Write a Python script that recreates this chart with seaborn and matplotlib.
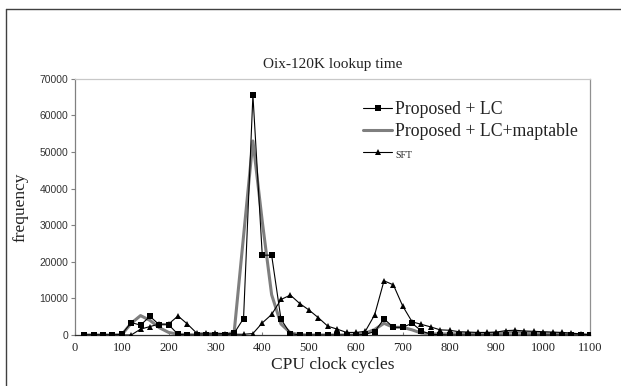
import matplotlib
matplotlib.use("Agg")
import matplotlib.pyplot as plt
from matplotlib.lines import Line2D
import seaborn as sns
import pandas as pd

cycles = list(range(20, 1101, 20))

proposed_lc = [0, 0, 0, 0, 200, 3400, 2700, 5100, 2800, 2800,
               200, 0, 0, 0, 0, 0, 500, 4500, 65500, 21800,
               21800, 4300, 400, 0, 0, 0, 0, 0, 0, 0,
               200, 900, 4400, 2100, 2100, 3200, 1100, 200, 100, 0,
               0, 0, 0, 0, 0, 0, 0, 0, 0, 0,
               0, 0, 0, 0, 0]

proposed_lc_maptable = [0, 0, 0, 0, 100, 3200, 5300, 4000, 2000, 700,
                        200, 100, 0, 0, 0, 0, 800, 27000, 53000, 31000,
                        11000, 3000, 600, 100, 0, 0, 0, 0, 0, 0,
                        500, 1500, 3200, 2100, 2100, 1400, 500, 300, 300, 300,
                        300, 300, 300, 400, 500, 700, 800, 700, 500, 400,
                        300, 300, 200, 100, 0]

sft = [0, 0, 0, 0, 0, 0, 1600, 2300, 3000, 3000,
       5200, 3000, 500, 500, 500, 400, 200, 200, 400, 3300,
       5600, 9700, 10900, 8600, 6800, 4700, 2400, 1600, 700, 700,
       1000, 5500, 14800, 13700, 7900, 3600, 2900, 2200, 1400, 1300,
       900, 800, 700, 700, 800, 1200, 1300, 1100, 1000, 900,
       800, 700, 500, 300, 0]

series_names = ["Proposed + LC", "Proposed + LC+maptable", "SFT"]
x_ticks = list(range(0, 1101, 100))
y_ticks = list(range(0, 70001, 10000))

df = pd.DataFrame({"cycles": cycles,
                   series_names[0]: proposed_lc,
                   series_names[1]: proposed_lc_maptable,
                   series_names[2]: sft})

sns.set_style("white")
plt.rcParams["font.family"] = ["Liberation Serif", "DejaVu Serif"]

fig = plt.figure(figsize=(6.21, 3.86), dpi=100)
ax = fig.add_axes([75 / 621, 1 - 335 / 386, 515 / 621, (335 - 78.7) / 386])

sns.lineplot(data=df, x="cycles", y=series_names[0], ax=ax, color="black",
             linewidth=0.8, marker="s", markersize=3.8, markeredgewidth=0,
             label=series_names[0], zorder=4)
sns.lineplot(data=df, x="cycles", y=series_names[1], ax=ax, color="#7f7f7f",
             linewidth=2.2, label=series_names[1], zorder=3)
sns.lineplot(data=df, x="cycles", y=series_names[2], ax=ax, color="black",
             linewidth=0.8, marker="^", markersize=4.4, markeredgewidth=0,
             label=series_names[2], zorder=5)

ax.set_xlim(0, 1100)
ax.set_ylim(0, 70000)
ax.set_xticks(x_ticks)
ax.set_yticks(y_ticks)
ax.set_xticklabels([str(t) for t in x_ticks], fontsize=9, color="#222222")
ax.set_yticklabels([str(t) for t in y_ticks], fontsize=7.5,
                   family="Liberation Sans", color="#333333")
ax.tick_params(axis="y", direction="out", length=3, width=0.8, color="#808080",
               pad=2, left=True)
ax.tick_params(axis="x", direction="in", length=2.5, width=0.8, color="#808080",
               pad=5, bottom=True)

for side, col in [("left", "#808080"), ("right", "#909090"),
                  ("top", "#c8c8c8"), ("bottom", "#303030")]:
    ax.spines[side].set_visible(True)
    ax.spines[side].set_color(col)
    ax.spines[side].set_linewidth(0.9)

ax.set_xlabel("CPU clock cycles", fontsize=12.5, color="#222222", labelpad=2)
ax.set_ylabel("frequency", fontsize=12.5, color="#222222", labelpad=8)
ax.set_title("Oix-120K lookup time", fontsize=11, color="#222222", pad=8)

leg = ax.legend(loc="upper left", bbox_to_anchor=(0.559, 0.913), frameon=False,
                borderpad=0, borderaxespad=0, handlelength=1.65,
                handletextpad=0.15, labelspacing=0.3, fontsize=12.8)
leg.get_texts()[2].set_fontsize(7)
for t in leg.get_texts():
    t.set_color("#222222")

fig.add_artist(Line2D([6 / 621, 1.0], [1 - 9 / 386, 1 - 9 / 386],
                      transform=fig.transFigure, color="#404040", linewidth=1))
fig.add_artist(Line2D([6 / 621, 6 / 621], [0, 1 - 9 / 386],
                      transform=fig.transFigure, color="#404040", linewidth=1))

fig.savefig("out.png", dpi=100)
